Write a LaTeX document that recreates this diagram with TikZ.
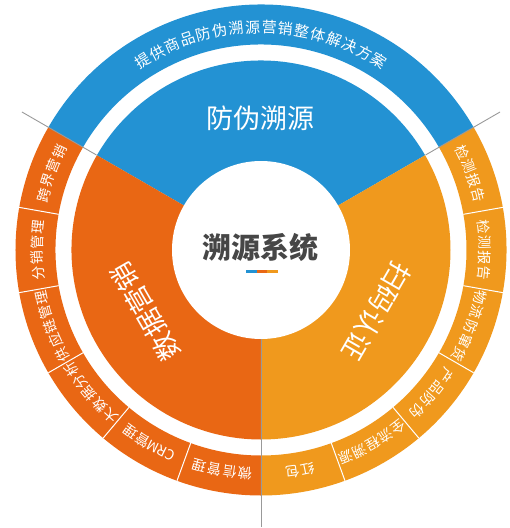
\documentclass[tikz,border=0pt]{standalone}
\usepackage{fontspec}
\setmainfont{Noto Sans CJK SC}
\definecolor{cblue}{RGB}{35,146,211}
\definecolor{cdark}{RGB}{233,103,20}
\definecolor{clight}{RGB}{240,153,29}
\definecolor{ctitle}{RGB}{70,70,70}
\tikzset{
  ringtext/.style={text=white, inner sep=0pt, font=\fontsize{14}{14}\selectfont},
  toptext/.style={text=white, inner sep=0pt, font=\fontsize{15}{15}\selectfont},
  biglabel/.style={text=white, inner sep=0pt, font=\fontsize{27}{27}\selectfont},
  divider/.style={white, line width=1pt},
  greyline/.style={draw=black!40, line width=0.9pt},
}
\newcommand\arclabel[7]{% #1 name, #2 radius, #3 center angle, #4 step, #5 count, #6 style, #7 list
  \foreach \ch [count=\i] in {#7}{%
    \pgfmathsetmacro\ang{#3+((#5+1)/2-\i)*#4}%
    \node[#6, rotate=\ang-90] (#1-\i) at (\ang:#2) {\ch};}}
\begin{document}
\begin{tikzpicture}[x=1pt,y=1pt]
\useasboundingbox (-261,-278) rectangle (249,250);
% inner sectors
\fill[cblue] (0,0) -- (30:189.5) arc[start angle=30,end angle=150,radius=189.5pt] -- cycle;
\fill[cdark] (0,0) -- (150:189.5) arc[start angle=150,end angle=270,radius=189.5pt] -- cycle;
\fill[clight] (0,0) -- (270:189.5) arc[start angle=270,end angle=390,radius=189.5pt] -- cycle;
% outer ring
\fill[cblue] (30:205.5) arc[start angle=30,end angle=150,radius=205.5pt] -- (150:245.5) arc[start angle=150,end angle=30,radius=245.5pt] -- cycle;
\fill[cdark] (150:205.5) arc[start angle=150,end angle=270,radius=205.5pt] -- (270:245.5) arc[start angle=270,end angle=150,radius=245.5pt] -- cycle;
\fill[clight] (270:205.5) arc[start angle=270,end angle=390,radius=205.5pt] -- (30:245.5) arc[start angle=30,end angle=-90,radius=245.5pt] -- cycle;
% dividers in outer ring
\foreach \a in {170,190,210,230,250,10,-10,-30,-50,-70}
  \draw[divider] (\a:205.5) -- (\a:245.5);
% centre circle
\fill[white] (0,0) circle[radius=89pt];
% grey lines
\draw[greyline] (150:190) -- (150:276);
\draw[greyline] (30:190) -- (30:276);
\draw[greyline] (270:89) -- (270:277);
% big labels
\node[biglabel] (fw) at (90:132) {防伪溯源};
\node[biglabel, rotate=120] (sj) at (208:131) {数据营销};
\node[biglabel, rotate=-120] (sm) at (332:131) {扫码认证};
% centre title
\node[text=ctitle, inner sep=0pt, font=\fontsize{29}{29}\selectfont\bfseries] (title) at (0,2.5) {溯源系统};
\fill[cblue] (-15,-19.5) rectangle (-4.3,-22.5);
\fill[cdark] (-4.3,-19.5) rectangle (6.3,-22.5);
\fill[clight] (6.3,-19.5) rectangle (17.3,-22.5);
% top arc text
\arclabel{top}{223}{90}{4.27}{16}{toptext}{提,供,商,品,防,伪,溯,源,营,销,整,体,解,决,方,案}
% left segments
\arclabel{l1}{224}{160}{3.9}{4}{ringtext}{跨,界,营,销}
\arclabel{l2}{224}{180}{3.9}{4}{ringtext}{分,销,管,理}
\arclabel{l3}{224}{200}{3.9}{5}{ringtext}{供,应,链,管,理}
\arclabel{l4}{224}{220}{3.9}{5}{ringtext}{大,数,据,分,析}
\node[ringtext, rotate=243.6-90] (crm) at (243.6:224) {CRM};
\node[ringtext, rotate=238.2-90] (crm2) at (238.2:224) {管};
\node[ringtext, rotate=234.3-90] (crm3) at (234.3:224) {理};
\arclabel{l6}{224}{260}{3.9}{4}{ringtext}{微,信,管,理}
% right segments
\arclabel{r1}{224}{20}{3.9}{4}{ringtext}{检,测,报,告}
\arclabel{r2}{224}{0}{3.9}{4}{ringtext}{检,测,报,告}
\arclabel{r3}{224}{-20}{3.9}{5}{ringtext}{物,流,防,窜,货}
\arclabel{r4}{224}{-40}{3.9}{4}{ringtext}{产,品,防,伪}
\arclabel{r5}{224}{-60}{3.9}{5}{ringtext}{全,流,程,溯,源}
\arclabel{r6}{224}{-80}{3.9}{2}{ringtext}{红,包}
\end{tikzpicture}
\end{document}
